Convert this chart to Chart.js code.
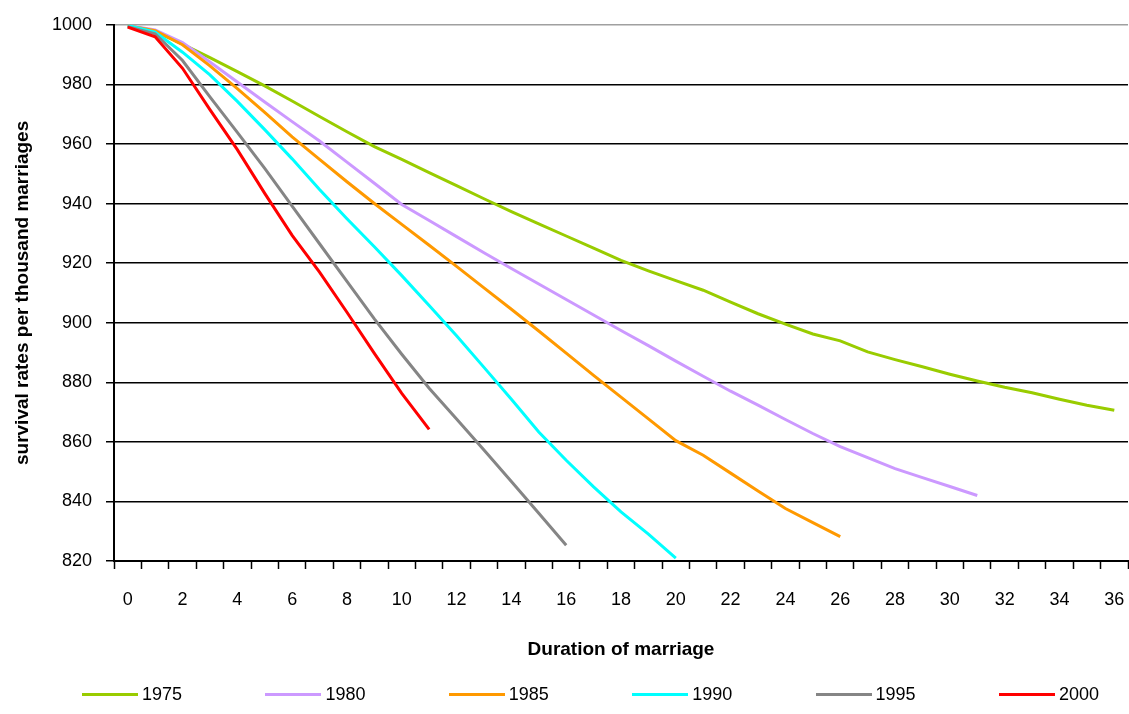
<!DOCTYPE html>
<html>
<head>
<meta charset="utf-8">
<script src="https://cdn.jsdelivr.net/npm/chart.js@4.4.0/dist/chart.umd.min.js"></script>
<style>
html,body{margin:0;padding:0;background:#fff;}
#wrap{position:relative;width:1129px;height:714px;overflow:hidden;}
#legend{position:absolute;left:82px;top:683px;height:22px;display:flex;
  font-family:"Liberation Sans Narrow","Arial Narrow","Liberation Sans",Arial,sans-serif;font-size:18px;color:#000;}
.item{width:183.4px;display:flex;align-items:center;white-space:nowrap;}
.swatch{display:inline-block;width:56px;height:3px;margin-right:4px;}
</style>
</head>
<body>
<div id="wrap">
<canvas id="c" width="1129" height="714"></canvas>
<div id="legend"></div>
</div>
<script>
// ---- data ----
const categories = ["0","1","2","3","4","5","6","7","8","9","10","11","12","13","14","15","16","17","18",
  "19","20","21","22","23","24","25","26","27","28","29","30","31","32","33","34","35","36"];
const seriesNames = ["1975","1980","1985","1990","1995","2000"];
const y1975 = [999.8,997.8,993.5,989,984.3,979.5,974.4,969.2,964.1,959.1,954.8,950.4,946,941.6,937.3,933.2,929.1,925,920.9,
  917.4,914.1,910.9,906.9,903,899.5,896.2,893.9,890.2,887.6,885.2,882.7,880.4,878.3,876.5,874.3,872.3,870.6];
const y1980 = [999.8,998.3,994,987.5,980.8,974.1,967.5,961,953.9,946.8,939.7,934.3,928.9,923.5,918.2,913,907.8,902.6,897.4,
  892.3,887.1,882,877,872.3,867.5,862.8,858.4,854.7,851,848,845,842];
const y1985 = [999.7,998,993.3,986.2,978.6,970.6,962.4,954.8,947.3,940,933,926,918.9,911.7,904.5,897.2,889.8,882.3,875,
  867.7,860.4,855.5,849.5,843.5,837.6,832.9,828.2];
const y1990 = [999.8,997.5,990.8,983.2,974.3,964.8,955,944.7,934.9,925.5,915.8,905.8,895.6,885,874.3,863.3,853.8,844.9,836.5,829,821];
const y1995 = [999.4,997,988,975.8,963.9,951.8,939.1,926.5,913.9,901.3,889.4,878,867.7,857.3,846.7,836,825.3];
const y2000 = [999.2,996,985.4,971.5,958.1,943.4,929.3,917,903.5,889.7,876.3,864.2];
const yTicksMin = 820, yTicksMax = 1000, yTickStep = 20;

const colors = ["#99CC00","#CC99FF","#FF9900","#00FFFF","#858585","#FF0000"];
const allSeries = [y1975,y1980,y1985,y1990,y1995,y2000];

const FONT = '"Liberation Sans Narrow","Arial Narrow","Liberation Sans",Arial,sans-serif';

const htmlLegend = {
  id: 'htmlLegend',
  afterUpdate(chart) {
    const box = document.getElementById('legend');
    box.innerHTML = '';
    const items = chart.options.plugins.legend.labels.generateLabels(chart)
      .sort((a, b) => a.datasetIndex - b.datasetIndex);
    items.forEach(it => {
      const d = document.createElement('div'); d.className = 'item';
      const s = document.createElement('span'); s.className = 'swatch'; s.style.background = it.strokeStyle;
      const t = document.createElement('span'); t.textContent = it.text;
      d.append(s, t); box.append(d);
    });
  }
};

new Chart(document.getElementById('c'), {
  type: 'line',
  data: {
    labels: categories,
    datasets: allSeries.map((arr, i) => ({
      label: seriesNames[i],
      data: arr,
      borderColor: colors[i],
      backgroundColor: colors[i],
      borderWidth: 3,
      pointRadius: 0,
      tension: 0,
      fill: false,
      order: allSeries.length - i
    }))
  },
  options: {
    responsive: false,
    animation: false,
    layout: { padding: { top: 21, right: 1, bottom: 44, left: 0 } },
    plugins: { legend: { display: false }, tooltip: { enabled: false } },
    scales: {
      x: {
        type: 'category',
        offset: true,
        grid: { offset: true, drawOnChartArea: false, drawTicks: true, tickLength: 8, tickColor: '#000', tickWidth: 1.5 },
        border: { display: true, color: '#000', width: 2 },
        ticks: {
          autoSkip: false, maxRotation: 0, minRotation: 0, padding: 20, color: '#000',
          font: { family: FONT, size: 18 },
          callback: (v, i) => (i % 2 === 0 ? categories[i] : '')
        },
        title: { display: true, text: 'Duration of marriage', color: '#000',
          font: { family: FONT, size: 19, weight: 'bold' }, padding: { top: 4, bottom: 9 } },
        afterFit: s => { s.height = 109; s.paddingLeft = 0; s.paddingRight = 0; }
      },
      y: {
        min: yTicksMin, max: yTicksMax,
        ticks: { stepSize: yTickStep, padding: 14, color: '#000', font: { family: FONT, size: 18 },
          callback: v => String(v) },
        grid: {
          color: c => (c.tick && c.tick.value === yTicksMax ? '#a0a0a0' : '#000'),
          lineWidth: 1.5, tickLength: 8, tickColor: '#000', tickWidth: 1.5
        },
        border: { display: true, color: '#000', width: 2 },
        title: { display: true, text: 'survival rates per thousand marriages', color: '#000',
          font: { family: FONT, size: 19, weight: 'bold' }, padding: { top: 11, bottom: 4 } },
        afterFit: s => { s.width = 114; }
      }
    }
  },
  plugins: [htmlLegend]
});
</script>
</body>
</html>
